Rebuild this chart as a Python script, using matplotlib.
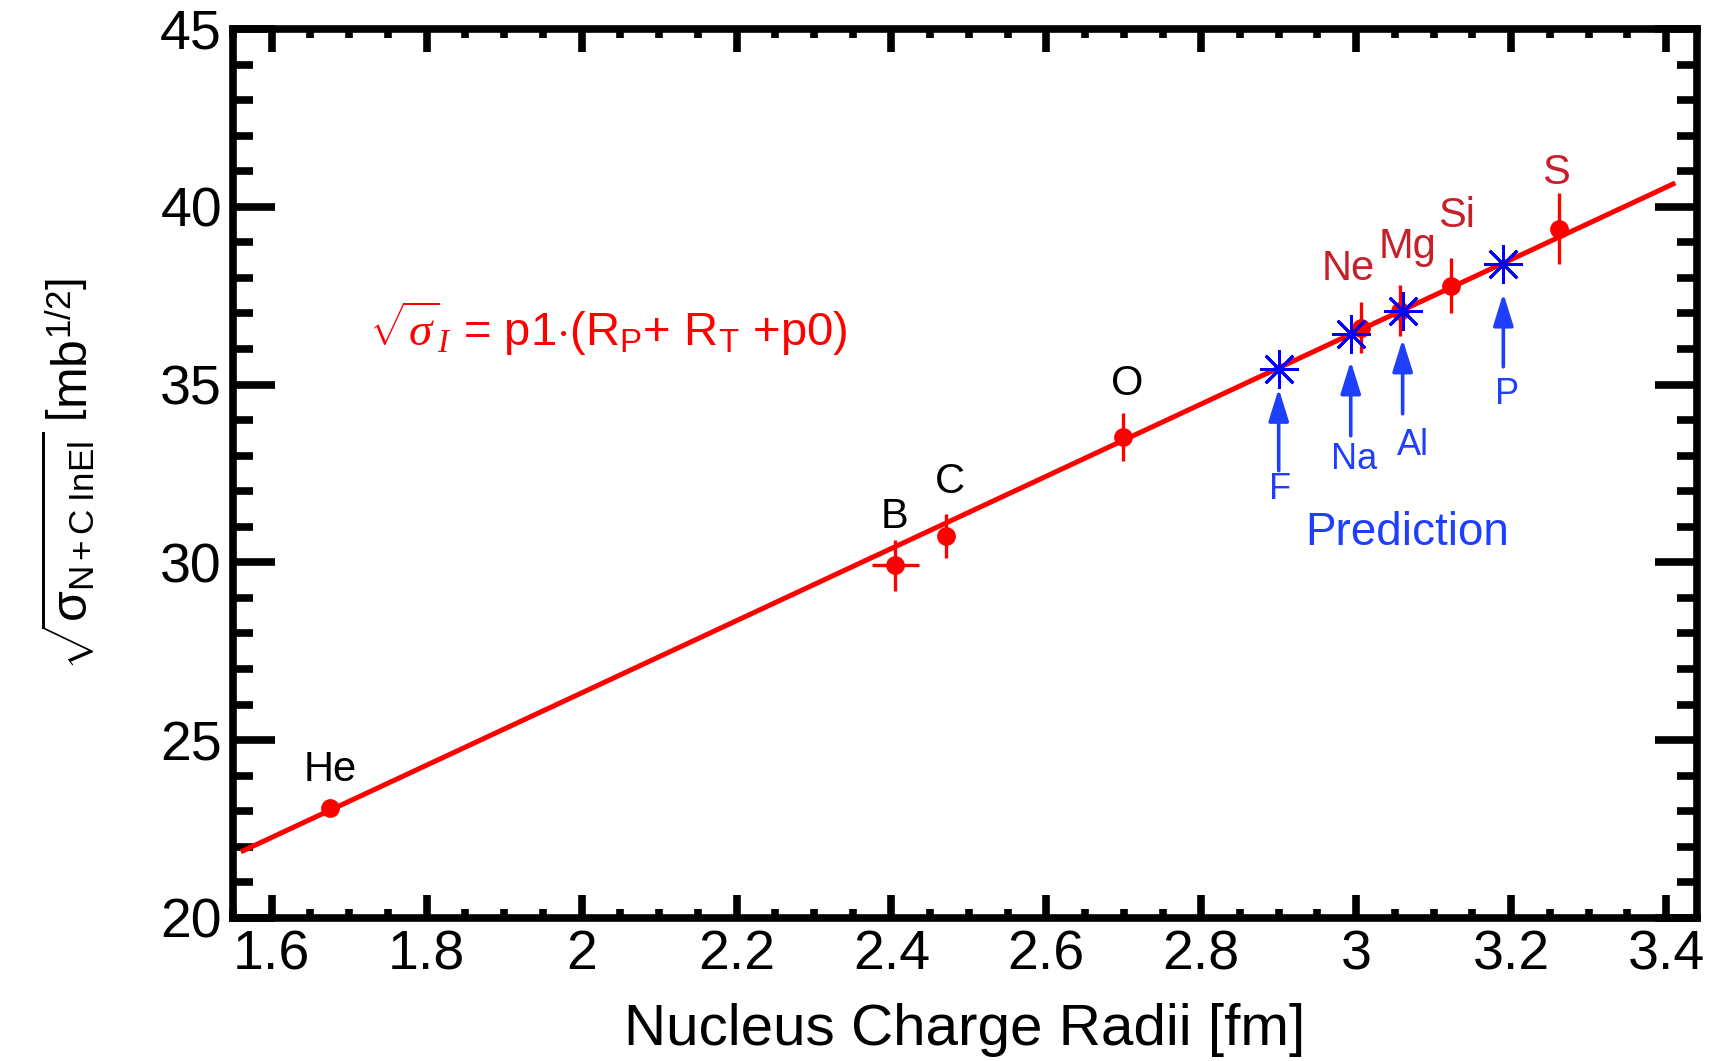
import matplotlib
matplotlib.use("Agg")
import matplotlib.pyplot as plt
from matplotlib.ticker import MultipleLocator
from matplotlib.patches import FancyArrowPatch

plt.rcParams['font.family'] = ['Liberation Sans', 'DejaVu Sans']
plt.rcParams['mathtext.fontset'] = 'custom'
plt.rcParams['mathtext.rm'] = 'Liberation Sans'
plt.rcParams['mathtext.it'] = 'Liberation Serif:italic'
plt.rcParams['mathtext.sf'] = 'Liberation Sans'

# measured nuclei
meas_names = ['He', 'B', 'C', 'O', 'Ne', 'Mg', 'Si', 'S']
meas_x = [1.675, 2.405, 2.47, 2.699, 3.006, 3.057, 3.122, 3.262]
meas_y = [23.09, 29.92, 30.75, 33.52, 36.60, 37.08, 37.78, 39.38]
meas_xerr = [0.0, 0.03, 0.0, 0.0, 0.0, 0.0, 0.0, 0.0]
meas_yerr = [0.12, 0.72, 0.62, 0.68, 0.72, 0.72, 0.78, 1.0]
meas_label_x = [1.675, 2.404, 2.475, 2.704, 2.99, 3.066, 3.13, 3.258]
meas_label_y = [24.16, 31.28, 32.27, 35.01, 38.25, 38.87, 39.73, 40.96]
meas_label_colors = ['black', 'black', 'black', 'black', '#c8202a', '#c8202a', '#c8202a', '#c8202a']

# predictions
pred_names = ['F', 'Na', 'Al', 'P']
pred_x = [2.90, 2.993, 3.06, 3.19]
pred_y = [35.45, 36.43, 37.08, 38.40]
arrow_tail_y = [32.58, 33.56, 34.18, 35.50]
arrow_head_y = [34.89, 35.66, 36.28, 37.57]
pred_label_x = [2.902, 2.998, 3.073, 3.195]
pred_label_y = [32.05, 32.89, 33.29, 34.73]

# fit line
fit_x = [1.56, 3.412]
fit_y = [21.86, 40.67]

x_ticks = [1.6, 1.8, 2.0, 2.2, 2.4, 2.6, 2.8, 3.0, 3.2, 3.4]
x_ticklabels = ['1.6', '1.8', '2', '2.2', '2.4', '2.6', '2.8', '3', '3.2', '3.4']
y_ticks = [20, 25, 30, 35, 40, 45]

fig = plt.figure(figsize=(17.11, 10.61), dpi=100)
ax = fig.add_axes([0.1362, 0.1348, 0.9918 - 0.1362, 0.9727 - 0.1348])

red = '#ff0000'
blue = '#0000ff'
blue_txt = '#1f3fff'

ax.plot(fit_x, fit_y, color=red, lw=3.6, solid_capstyle='butt', zorder=2)
ax.errorbar(meas_x, meas_y, xerr=meas_xerr, yerr=meas_yerr, fmt='o', color=red,
            ms=12.5, elinewidth=2.4, capsize=0, zorder=3)
ax.plot(pred_x, pred_y, linestyle='none', marker=(8, 2, 0), ms=28, mew=2.0,
        color=blue, zorder=4)

for xv, t, h in zip(pred_x, arrow_tail_y, arrow_head_y):
    arr = FancyArrowPatch((xv, t), (xv, h), arrowstyle='-|>,head_length=0.9,head_width=0.28',
                          mutation_scale=22, color=blue_txt, lw=2.6, shrinkA=0, shrinkB=0,
                          zorder=3)
    ax.add_patch(arr)

for name, lx, ly, c in zip(meas_names, meas_label_x, meas_label_y, meas_label_colors):
    ax.text(lx, ly, name, color=c, fontsize=30, ha='center', va='center')

for name, lx, ly in zip(pred_names, pred_label_x, pred_label_y):
    ax.text(lx, ly, name, color=blue_txt, fontsize=26, ha='center', va='center')

ax.text(3.066, 30.82, 'Prediction', color=blue_txt, fontsize=33, ha='center', va='center')

ax.text(1.726, 36.58, r'$\sqrt{\sigma}_{I}$ = p1$\cdot$(R$_{\mathrm{P}}$+ R$_{\mathrm{T}}$ +p0)',
        color=red, fontsize=34, ha='left', va='center')

ax.set_xlim(1.55, 3.44)
ax.set_ylim(20, 45)
ax.set_xticks(x_ticks)
ax.set_xticklabels(x_ticklabels)
ax.set_yticks(y_ticks)
ax.xaxis.set_minor_locator(MultipleLocator(0.05))
ax.yaxis.set_minor_locator(MultipleLocator(1))

ax.tick_params(axis='both', which='both', direction='in', top=True, right=True,
               width=5.5, labelsize=40, pad=8)
ax.tick_params(axis='x', which='major', length=16.5)
ax.tick_params(axis='x', which='minor', length=6.7)
ax.tick_params(axis='y', which='major', length=30)
ax.tick_params(axis='y', which='minor', length=14.4)
for s in ax.spines.values():
    s.set_linewidth(5.5)

ax.set_xlabel('Nucleus Charge Radii [fm]', fontsize=42, labelpad=16)
ax.set_ylabel(r'$\sqrt{\mathrm{\sigma}_{\mathrm{N+C\ InEl}}}\ \left[\mathrm{mb}^{\mathrm{1/2}}\right]$', fontsize=36)
ax.yaxis.set_label_coords(-0.092, 0.5)

fig.savefig('out.png', dpi=100)
